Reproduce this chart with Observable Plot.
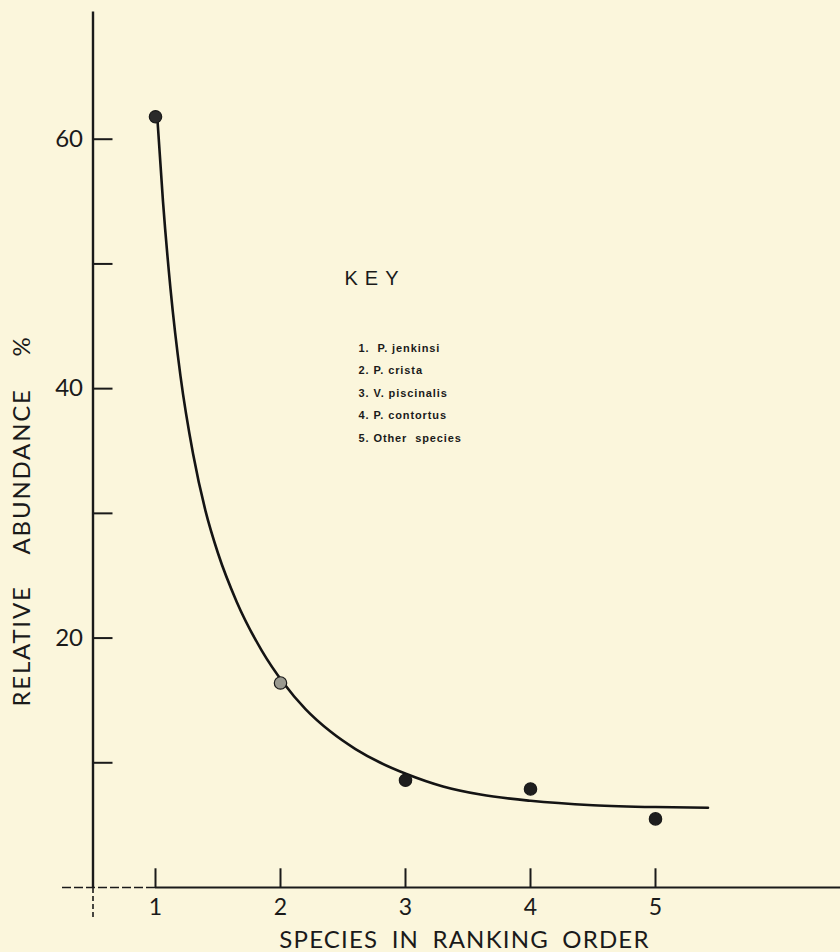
<!DOCTYPE html>
<html>
<head>
<meta charset="utf-8">
<script src="https://cdn.jsdelivr.net/npm/d3@7"></script>
<script src="https://cdn.jsdelivr.net/npm/@observablehq/plot@0.6"></script>
<style>
  html, body { margin: 0; padding: 0; background: #fbf6dc; }
  #chart { width: 840px; height: 952px; overflow: hidden; }
</style>
</head>
<body>
<div id="chart"></div>
<script>
// Observed relative abundance (%) for each species rank
const species = [1, 2, 3, 4, 5];
const abundance = [61.8, 16.4, 8.6, 7.9, 5.5];
const pointShade = ["#2a2a2a", "#9a9a90", "#1e1e1e", "#1e1e1e", "#1e1e1e"];

// Fitted curve
const curveX = [1.016, 1.06, 1.12, 1.2, 1.3, 1.4, 1.5, 1.65, 1.85, 2.024, 2.2, 2.4, 2.6, 2.8, 3.008, 3.3, 3.6, 4.0, 4.5, 5.0, 5.42];
const curveY = [61.5, 55.0, 48.0, 41.0, 34.8, 30.2, 26.8, 22.9, 19.0, 16.4, 14.3, 12.5, 11.1, 10.0, 9.1, 8.1, 7.45, 6.95, 6.6, 6.45, 6.4];

// Axis ticks and labels
const xTicks = [1, 2, 3, 4, 5];
const xTickLabels = ["1", "2", "3", "4", "5"];
const yTicks = [10, 20, 30, 40, 50, 60];
const yLabelValues = [20, 40, 60];
const yLabels = ["20", "40", "60"];

const xTitle = "SPECIES IN RANKING ORDER";
const yTitle = "RELATIVE    ABUNDANCE    %";
const keyTitle = "KEY";
const keyItems = ["1.  P. jenkinsi", "2. P. crista", "3. V. piscinalis", "4. P. contortus", "5. Other  species"];

const points = species.map((s, i) => ({x: s, y: abundance[i], fill: pointShade[i]}));
const curve = curveX.map((x, i) => ({x, y: curveY[i]}));
const xt = xTicks.map((x, i) => ({x, label: xTickLabels[i]}));
const yt = yTicks.map(y => ({y}));
const yl = yLabelValues.map((y, i) => ({y, label: yLabels[i]}));

const axisX0 = 0.5;      // where the vertical axis stands on the x scale
const tickLenX = 0.16;   // horizontal tick length in x units
const tickLenY = 1.5;    // vertical tick length in y units

const sans = "Lato, 'Open Sans', sans-serif";
const helv = "'Liberation Sans', Arial, sans-serif";

const plot = Plot.plot({
  width: 840,
  height: 952,
  marginLeft: 30,
  marginRight: 0,
  marginTop: 14,
  marginBottom: 65,
  x: {domain: [0, 6.48], axis: null},
  y: {domain: [0, 70], axis: null},
  style: {background: "#fbf6dc", color: "#1a1a1a"},
  marks: [
    // vertical axis
    Plot.ruleX([axisX0], {y1: 0, y2: 70.2, stroke: "#1a1a1a", strokeWidth: 2.4}),
    Plot.ruleX([axisX0], {y1: -2.4, y2: 0, stroke: "#1a1a1a", strokeWidth: 1.6, strokeDasharray: "5,3"}),
    // horizontal axis
    Plot.ruleY([0], {x1: 1, x2: 6.48, stroke: "#1a1a1a", strokeWidth: 2}),
    Plot.ruleY([0], {x1: 0.256, x2: 1, stroke: "#1a1a1a", strokeWidth: 1.5, strokeDasharray: "9,3"}),
    // y ticks
    Plot.ruleY(yt, {y: "y", x1: axisX0, x2: axisX0 + tickLenX, stroke: "#1a1a1a", strokeWidth: 2}),
    Plot.text(yl, {y: "y", x: axisX0, text: "label", textAnchor: "end", dx: -10, fontSize: 24, fontFamily: sans, fill: "#1a1a1a"}),
    // x ticks
    Plot.ruleX(xt, {x: "x", y1: 0, y2: tickLenY, stroke: "#1a1a1a", strokeWidth: 2}),
    Plot.text(xt, {x: "x", y: 0, text: "label", dy: 20, fontSize: 23, fontFamily: sans, fill: "#1a1a1a"}),
    // fitted curve
    Plot.line(curve, {x: "x", y: "y", curve: "monotone-x", stroke: "#141414", strokeWidth: 2.6}),
    // observations
    Plot.dot(points, {x: "x", y: "y", r: 6.2, fill: "fill", stroke: "#1a1a1a", strokeWidth: 1.2}),
    // titles
    Plot.text([yTitle], {frameAnchor: "left", textAnchor: "middle", lineAnchor: "middle", rotate: -90, dx: -8, dy: 70, fontSize: 24, fontFamily: sans, fill: "#1a1a1a"}),
    Plot.text([xTitle], {frameAnchor: "bottom", textAnchor: "middle", lineAnchor: "middle", dx: 29, dy: 53, fontSize: 24, fontFamily: sans, fill: "#1a1a1a"}),
    // key
    Plot.text([keyTitle], {frameAnchor: "top-left", textAnchor: "start", lineAnchor: "middle", dx: 314, dy: 264, fontSize: 20, fontFamily: helv, fill: "#1a1a1a"}),
    Plot.text([keyItems.join("\n")], {frameAnchor: "top-left", textAnchor: "start", lineAnchor: "middle", dx: 328, dy: 375, lineHeight: 2.05, fontSize: 11, fontWeight: "bold", fontFamily: helv, fill: "#1a1a1a"})
  ]
});

const svg = d3.select(plot);
const texts = svg.selectAll("text");
texts.filter(function() { return this.textContent === keyTitle; }).style("letter-spacing", "7px");
texts.filter(function() { return this.textContent.startsWith("1.  P."); }).style("letter-spacing", "0.9px");
texts.filter(function() { return this.textContent === xTitle; }).style("letter-spacing", "1.2px").style("word-spacing", "6px");
texts.filter(function() { return this.textContent === yTitle; }).style("letter-spacing", "1.8px").style("white-space", "pre").attr("xml:space", "preserve");

document.getElementById("chart").appendChild(plot);
</script>
</body>
</html>
